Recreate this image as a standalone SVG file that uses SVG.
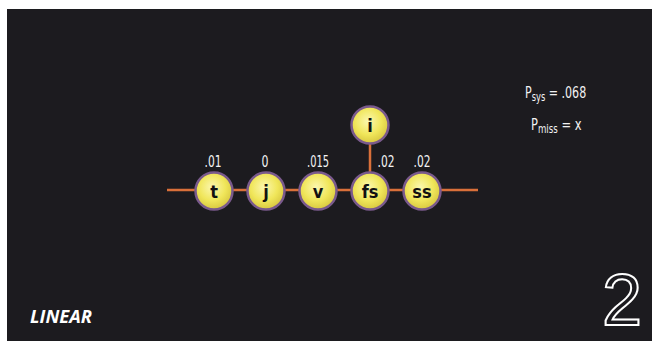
<svg xmlns="http://www.w3.org/2000/svg" width="652" height="341" viewBox="0 0 652 341">
<defs>
<radialGradient id="ball" cx="45%" cy="40%" r="60%">
<stop offset="0" stop-color="#fbf7b0"/>
<stop offset="0.6" stop-color="#f0e65a"/>
<stop offset="1" stop-color="#d8c840"/>
</radialGradient>
<style>
.n circle{fill:url(#ball);stroke:#7a5a8c;stroke-width:2.5}
.n text{font-family:"DejaVu Sans Condensed","Liberation Sans Narrow","Liberation Sans",sans-serif;font-stretch:condensed;font-weight:bold;font-size:18px;fill:#111;text-anchor:middle}
.lab{font-family:"DejaVu Sans Condensed","Liberation Sans Narrow","Liberation Sans",sans-serif;font-stretch:condensed;font-size:16px;fill:#f2f2f2;text-anchor:middle}
.eq{font-family:"DejaVu Sans Condensed","Liberation Sans Narrow","Liberation Sans",sans-serif;font-stretch:condensed;font-size:16px;fill:#f2f2f2}
.edge{stroke:#d9703a;stroke-width:2.5;fill:none}
</style>
</defs>
<rect width="652" height="341" fill="#ffffff"/>
<rect x="7" y="9" width="645" height="332" fill="#1c1b1f"/>
<g id="connectors">
<line class="edge" x1="167" y1="190" x2="478" y2="190"/>
<line class="edge" x1="370" y1="140" x2="370" y2="175"/>
</g>
<g id="node-t" class="n"><circle cx="214" cy="191" r="18.5"/><text x="214" y="197.5">t</text></g>
<g id="node-j" class="n"><circle cx="266" cy="191" r="18.5"/><text x="266" y="197.5">j</text></g>
<g id="node-v" class="n"><circle cx="318" cy="191" r="18.5"/><text x="318" y="197.5">v</text></g>
<g id="node-fs" class="n"><circle cx="370" cy="191" r="18.5"/><text x="370" y="197.5">fs</text></g>
<g id="node-ss" class="n"><circle cx="422" cy="191" r="18.5"/><text x="422" y="197.5">ss</text></g>
<g id="node-i" class="n"><circle cx="370" cy="125" r="18.5"/><text x="370" y="131.5">i</text></g>
<g id="labels">
<text class="lab" x="213" y="167" textLength="17" lengthAdjust="spacingAndGlyphs">.01</text>
<text class="lab" x="265" y="167" textLength="7" lengthAdjust="spacingAndGlyphs">0</text>
<text class="lab" x="318" y="167" textLength="22" lengthAdjust="spacingAndGlyphs">.015</text>
<text class="lab" x="386" y="167" textLength="17" lengthAdjust="spacingAndGlyphs">.02</text>
<text class="lab" x="422" y="167" textLength="17" lengthAdjust="spacingAndGlyphs">.02</text>
</g>
<g id="equations">
<text class="eq" transform="translate(525,98) scale(0.77,1)" x="0" y="0">P<tspan font-size="12" dy="3">sys</tspan><tspan dy="-3"> = .068</tspan></text>
<text class="eq" transform="translate(531,130) scale(0.8,1)" x="0" y="0">P<tspan font-size="12" dy="3">miss</tspan><tspan dy="-3"> = x</tspan></text>
</g>
<text x="30" y="323" font-family="'Open Sans','Liberation Sans',sans-serif" font-weight="bold" font-style="italic" font-size="17" fill="#ffffff" textLength="62" lengthAdjust="spacingAndGlyphs">LINEAR</text>
<text x="622" y="325" text-anchor="middle" font-family="'Liberation Sans',sans-serif" font-size="72" fill="none" stroke="#ffffff" stroke-width="2">2</text>
</svg>
